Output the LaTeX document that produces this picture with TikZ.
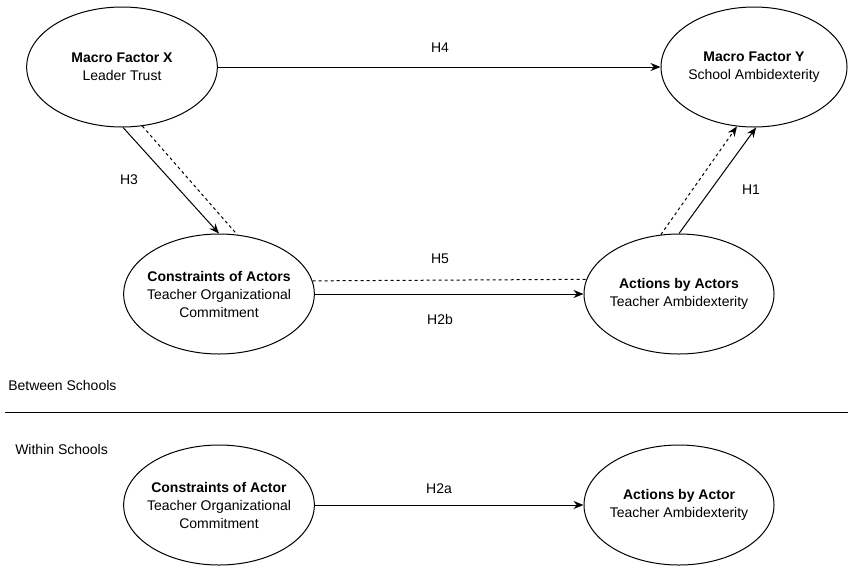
\documentclass[tikz,border=0pt]{standalone}
\usepackage{fontspec}
\setmainfont{Liberation Sans}
\usetikzlibrary{shapes.geometric,arrows.meta}

\begin{document}
\begin{tikzpicture}[
  x=0.75pt, y=-0.75pt,
  construct/.style={draw, ellipse, line width=0.75pt, inner xsep=-5pt, inner ysep=0pt, minimum width=143pt, minimum height=90pt, align=center, font=\fontsize{10.5}{13.5}\selectfont},
  hyp/.style={font=\fontsize{10.5}{12}\selectfont},
  lvl/.style={font=\fontsize{10.5}{12}\selectfont, anchor=west, inner sep=0pt},
  arr/.style={line width=0.75pt, -{Stealth[length=7.5pt, width=6pt]}},
  med/.style={line width=0.75pt, dash pattern=on 2.25pt off 2.25pt}
]
\useasboundingbox (0,0) rectangle (848,565);

\node [construct] (mx) at (122,67) {\textbf{Macro Factor X}\\Leader Trust};
\node [construct, minimum width=139.5pt] (my) at (754,67) {\textbf{Macro Factor Y}\\School Ambidexterity};
\node [construct] (ca) at (219,294) {\textbf{Constraints of Actors}\\Teacher Organizational\\Commitment};
\node [construct, minimum width=142.5pt] (aa) at (679,294) {\textbf{Actions by Actors}\\Teacher Ambidexterity};
\node [construct] (cw) at (219,505) {\textbf{Constraints of Actor}\\Teacher Organizational\\Commitment};
\node [construct, minimum width=142.5pt] (aw) at (679,505) {\textbf{Actions by Actor}\\Teacher Ambidexterity};

\draw [arr] (mx.east) -- (my.west);
\draw [arr] (mx.-89) -- (ca.north);
\draw [med] (mx.-71) -- (ca.73);
\draw [arr] (aa.north) -- (my.-88);
\draw [med, -{Stealth[length=7.5pt, width=6pt]}] (aa.107) -- (my.-106);
\draw [med] (ca.8.5) -- (aa.171.5);
\draw [arr] (ca.east) -- (aa.west);
\draw [arr] (cw.east) -- (aw.west);

\node [hyp] (h4) at (440,48) {H4};
\node [hyp] (h3) at (129,180) {H3};
\node [hyp] (h1) at (751,190) {H1};
\node [hyp] (h5) at (440,259) {H5};
\node [hyp] (h2b) at (440,319) {H2b};
\node [hyp] (h2a) at (439,489) {H2a};

\node [lvl] (between) at (8,385) {Between Schools};
\node [lvl] (within) at (15,449) {Within Schools};
\draw [line width=0.75pt] (5,412) -- (848,412);
\end{tikzpicture}
\end{document}
